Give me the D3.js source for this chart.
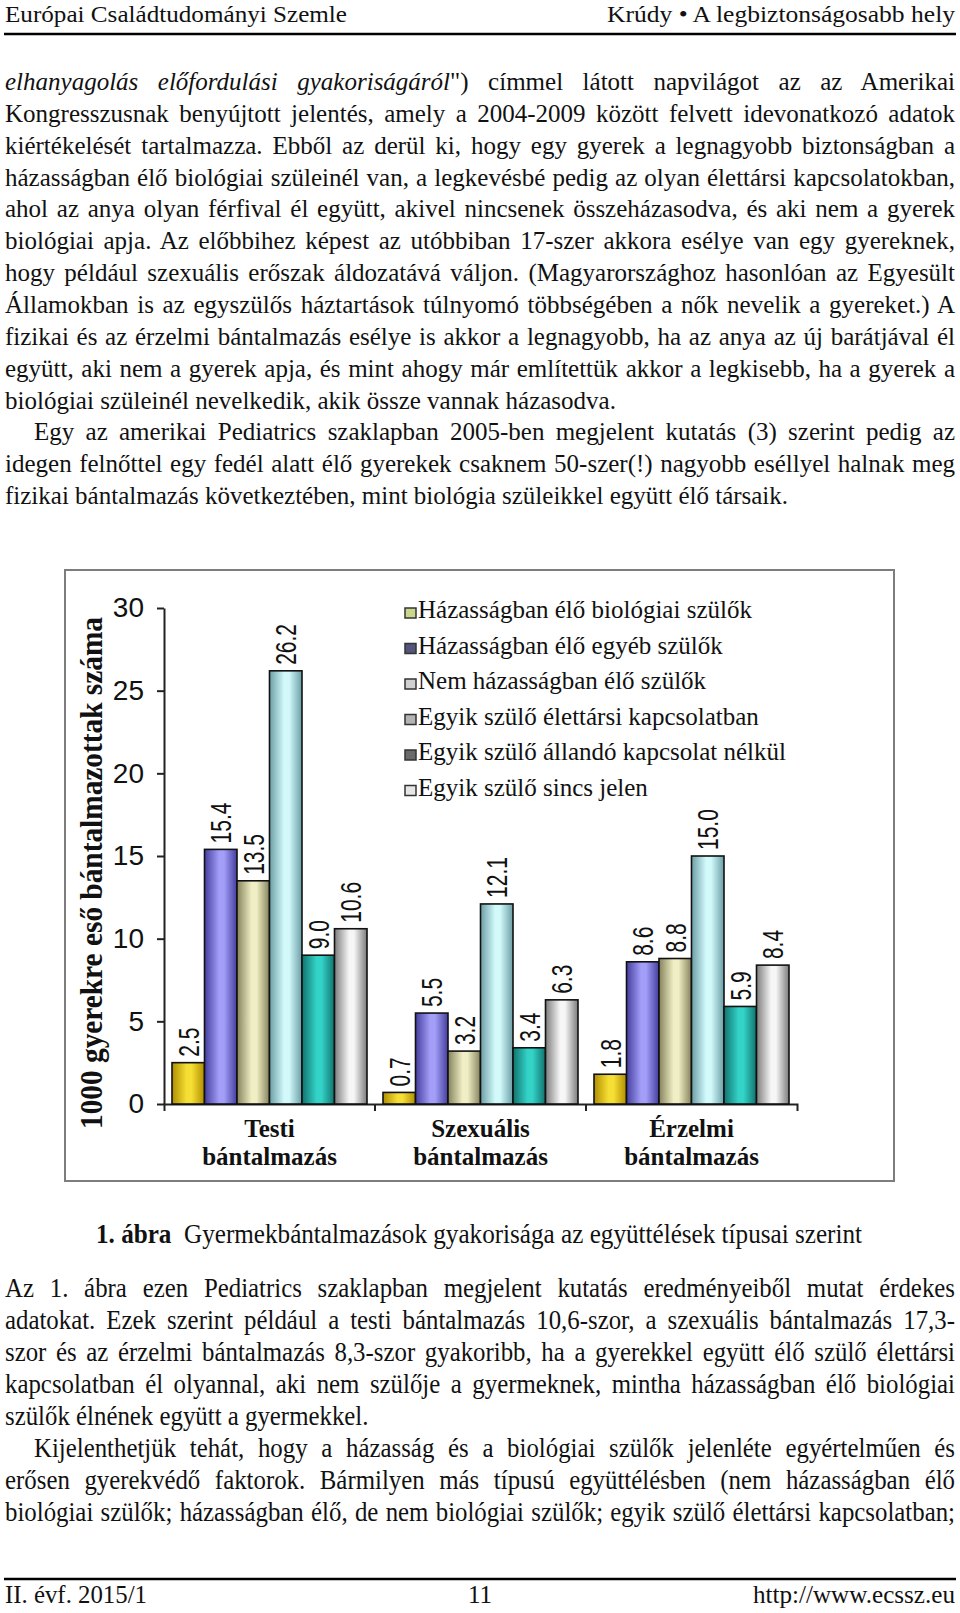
<!DOCTYPE html>
<html>
<head>
<meta charset="utf-8">
<script src="https://cdn.jsdelivr.net/npm/d3@7"></script>
<style>
  body { margin: 0; background: #fff; }
  svg text { fill: #111; }
</style>
</head>
<body>
<svg width="960" height="1613"></svg>
<script>
// ---- chart data ----
const categories = ["Testi bántalmazás", "Szexuális bántalmazás", "Érzelmi bántalmazás"];
const seriesNames = [
  "Házasságban élő biológiai szülők",
  "Házasságban élő egyéb szülők",
  "Nem házasságban élő szülők",
  "Egyik szülő élettársi kapcsolatban",
  "Egyik szülő állandó kapcsolat nélkül",
  "Egyik szülő sincs jelen"
];
const testiValues     = [2.5, 15.4, 13.5, 26.2, 9.0, 10.6];
const szexualisValues = [0.7, 5.5, 3.2, 12.1, 3.4, 6.3];
const erzelmiValues   = [1.8, 8.6, 8.8, 15.0, 5.9, 8.4];
const yTicks = [0, 5, 10, 15, 20, 25, 30];
const yTitle = "1000 gyerekre eső bántalmazottak száma";

const barEdge = ["#b08e00", "#443d9e", "#85835c", "#6b9ea6", "#11736e", "#7c7c7c"];
const barMid  = ["#f6df34", "#a39ef8", "#efeec4", "#d2fafb", "#33d3c8", "#f6f6f6"];
const swatch  = ["#c9d68c", "#55547a", "#d0d0d0", "#b4b4b4", "#6a6a6a", "#e6e6e6"];

// ---- page text ----
const headerLeft = "Európai Családtudományi Szemle";
const headerRight = "Krúdy • A legbiztonságosabb hely";
const topLines = [
  "_elhanyagolás előfordulási gyakoriságáról_\") címmel látott napvilágot az az Amerikai",
  "Kongresszusnak benyújtott jelentés, amely a 2004-2009 között felvett idevonatkozó adatok",
  "kiértékelését tartalmazza. Ebből az derül ki, hogy egy gyerek a legnagyobb biztonságban a",
  "házasságban élő biológiai szüleinél van, a legkevésbé pedig az olyan élettársi kapcsolatokban,",
  "ahol az anya olyan férfival él együtt, akivel nincsenek összeházasodva, és aki nem a gyerek",
  "biológiai apja. Az előbbihez képest az utóbbiban 17-szer akkora esélye van egy gyereknek,",
  "hogy például szexuális erőszak áldozatává váljon. (Magyarországhoz hasonlóan az Egyesült",
  "Államokban is az egyszülős háztartások túlnyomó többségében a nők nevelik a gyereket.) A",
  "fizikai és az érzelmi bántalmazás esélye is akkor a legnagyobb, ha az anya az új barátjával él",
  "együtt, aki nem a gyerek apja, és mint ahogy már említettük akkor a legkisebb, ha a gyerek a",
  "biológiai szüleinél nevelkedik, akik össze vannak házasodva.",
  "Egy az amerikai Pediatrics szaklapban 2005-ben megjelent kutatás (3) szerint pedig az",
  "idegen felnőttel egy fedél alatt élő gyerekek csaknem 50-szer(!) nagyobb eséllyel halnak meg",
  "fizikai bántalmazás következtében, mint biológia szüleikkel együtt élő társaik."
];
const topIndent = [11];
const topLast = [10, 13];
const bottomLines = [
  "Az 1. ábra ezen Pediatrics szaklapban megjelent kutatás eredményeiből mutat érdekes",
  "adatokat. Ezek szerint például a testi bántalmazás 10,6-szor, a szexuális bántalmazás 17,3-",
  "szor és az érzelmi bántalmazás 8,3-szor gyakoribb, ha a gyerekkel együtt élő szülő élettársi",
  "kapcsolatban él olyannal, aki nem szülője a gyermeknek, mintha házasságban élő biológiai",
  "szülők élnének együtt a gyermekkel.",
  "Kijelenthetjük tehát, hogy a házasság és a biológiai szülők jelenléte egyértelműen és",
  "erősen gyerekvédő faktorok. Bármilyen más típusú együttélésben (nem házasságban élő",
  "biológiai szülők; házasságban élő, de nem biológiai szülők; egyik szülő élettársi kapcsolatban;"
];
const bottomIndent = [5];
const bottomLast = [4];
const captionBold = "1. ábra";
const captionText = "Gyermekbántalmazások gyakorisága az együttélések típusai szerint";
const footer = ["II. évf. 2015/1", "11", "http://www.ecssz.eu"];

const serif = "'Liberation Serif','Times New Roman',serif";
const sans = "'Liberation Sans',Arial,sans-serif";

const svg = d3.select("svg");
svg.append("rect").attr("width", 960).attr("height", 1613).attr("fill", "#fff");

// justified line of text; sx < 1 gives the condensed face
function textLine(str, x, y, width, justify, size, sx) {
  const g = svg.append("g").attr("transform", `translate(${x},${y}) scale(${sx},1)`);
  const t = g.append("text")
             .style("font-family", serif)
             .style("font-size", size + "px");
  str.split("_").forEach((part, i) => {
    if (part === "") return;
    t.append("tspan").style("font-style", i % 2 ? "italic" : "normal").text(part);
  });
  if (justify) {
    const natural = t.node().getComputedTextLength();
    const spaces = (str.match(/ /g) || []).length;
    t.style("word-spacing", ((width / sx - natural) / spaces) + "px");
  }
}

// header
svg.append("text").attr("x", 5).attr("y", 22)
   .attr("textLength", 342).attr("lengthAdjust", "spacingAndGlyphs")
   .style("font-family", serif).style("font-size", "24px").text(headerLeft);
svg.append("text").attr("x", 955).attr("y", 22).attr("text-anchor", "end")
   .attr("textLength", 348).attr("lengthAdjust", "spacingAndGlyphs")
   .style("font-family", serif).style("font-size", "24px").text(headerRight);
svg.append("line").attr("x1", 4).attr("x2", 956).attr("y1", 34).attr("y2", 34)
   .attr("stroke", "#000").attr("stroke-width", 2.5);

topLines.forEach((s, i) => {
  const ind = topIndent.includes(i) ? 29 : 0;
  textLine(s, 5 + ind, 90 + i * 31.85, 950 - ind, !topLast.includes(i), 25, 1);
});

bottomLines.forEach((s, i) => {
  const ind = bottomIndent.includes(i) ? 29 : 0;
  textLine(s, 5 + ind, 1297 + i * 32, 950 - ind, !bottomLast.includes(i), 27, 0.92);
});

// caption
const cap = svg.append("text").attr("x", 479).attr("y", 1243).attr("text-anchor", "middle")
   .attr("textLength", 766).attr("lengthAdjust", "spacingAndGlyphs")
   .style("font-family", serif).style("font-size", "27px").style("white-space", "pre");
cap.append("tspan").style("font-weight", "bold").text(captionBold);
cap.append("tspan").text("  " + captionText);

// footer
svg.append("line").attr("x1", 4).attr("x2", 956).attr("y1", 1579).attr("y2", 1579)
   .attr("stroke", "#000").attr("stroke-width", 2.5);
svg.append("text").attr("x", 5).attr("y", 1603)
   .attr("textLength", 142).attr("lengthAdjust", "spacingAndGlyphs")
   .style("font-family", serif).style("font-size", "25px").text(footer[0]);
svg.append("text").attr("x", 480).attr("y", 1603).attr("text-anchor", "middle")
   .style("font-family", serif).style("font-size", "25px").text(footer[1]);
svg.append("text").attr("x", 955).attr("y", 1603).attr("text-anchor", "end")
   .attr("textLength", 202).attr("lengthAdjust", "spacingAndGlyphs")
   .style("font-family", serif).style("font-size", "25px").text(footer[2]);

// ---- chart ----
svg.append("rect").attr("x", 65).attr("y", 570).attr("width", 829).attr("height", 611)
   .attr("fill", "none").attr("stroke", "#7d7d7d").attr("stroke-width", 2);

const defs = svg.append("defs");
barEdge.forEach((c, i) => {
  const gr = defs.append("linearGradient").attr("id", "bar" + i)
                 .attr("x1", 0).attr("x2", 1).attr("y1", 0).attr("y2", 0);
  gr.append("stop").attr("offset", "0%").attr("stop-color", c);
  gr.append("stop").attr("offset", "45%").attr("stop-color", barMid[i]);
  gr.append("stop").attr("offset", "60%").attr("stop-color", barMid[i]);
  gr.append("stop").attr("offset", "100%").attr("stop-color", c);
});

const values = [testiValues, szexualisValues, erzelmiValues];

const x0 = d3.scaleBand().domain(categories).range([164, 797]);
const x1 = d3.scaleBand().domain(d3.range(seriesNames.length)).range([8, x0.bandwidth() - 8]);
const y = d3.scaleLinear().domain([0, 30]).range([1104, 608]);

const yAxis = svg.append("g")
   .attr("transform", "translate(164,0)")
   .call(d3.axisLeft(y).tickValues(yTicks).tickSize(7).tickSizeOuter(0).tickPadding(13));
yAxis.selectAll("path, line").attr("stroke", "#222").attr("stroke-width", 2);
yAxis.selectAll("text").style("font-family", sans).style("font-size", "28px").attr("fill", "#222");

const xAxis = svg.append("g")
   .attr("transform", "translate(0,1104)")
   .call(d3.axisBottom(x0).tickSize(0).tickSizeOuter(7).tickFormat(""));
xAxis.select("path").attr("stroke", "#222").attr("stroke-width", 2);
xAxis.selectAll(".sep")
     .data(categories.slice(1))
     .enter()
     .append("line")
     .attr("x1", d => x0(d)).attr("x2", d => x0(d))
     .attr("y1", 0).attr("y2", 7)
     .attr("stroke", "#222").attr("stroke-width", 2);

const groups = svg.selectAll(".grp")
   .data(categories)
   .enter()
   .append("g")
   .attr("transform", d => `translate(${x0(d)},0)`);

groups.selectAll("rect")
   .data((d, gi) => values[gi])
   .enter()
   .append("rect")
   .attr("x", (d, i) => x1(i))
   .attr("width", x1.bandwidth())
   .attr("y", d => y(d))
   .attr("height", d => y(0) - y(d))
   .attr("fill", (d, i) => `url(#bar${i})`)
   .attr("stroke", "#111")
   .attr("stroke-width", 1.6);

groups.selectAll(".val")
   .data((d, gi) => values[gi])
   .enter()
   .append("text")
   .attr("transform", (d, i) => `translate(${x1(i) + x1.bandwidth() / 2},${y(d) - 6}) rotate(-90) scale(1,1.4)`)
   .attr("dy", "0.36em")
   .style("font-family", sans)
   .style("font-size", "21px")
   .attr("fill", "#222")
   .text(d => d.toFixed(1));

groups.append("text")
   .attr("x", x0.bandwidth() / 2)
   .attr("text-anchor", "middle")
   .style("font-family", serif)
   .style("font-weight", "bold")
   .style("font-size", "25px")
   .selectAll("tspan")
   .data(d => d.split(" "))
   .enter()
   .append("tspan")
   .attr("x", x0.bandwidth() / 2)
   .attr("y", (d, i) => 1137 + i * 28)
   .text(d => d);

svg.append("text")
   .attr("transform", "translate(102,873) rotate(-90)")
   .attr("text-anchor", "middle")
   .attr("textLength", 512)
   .attr("lengthAdjust", "spacingAndGlyphs")
   .style("font-family", serif)
   .style("font-weight", "bold")
   .style("font-size", "31px")
   .text(yTitle);

const legend = svg.selectAll(".leg")
   .data(seriesNames)
   .enter()
   .append("g")
   .attr("transform", (d, i) => `translate(405,${618 + i * 35.5})`);

legend.append("rect")
   .attr("y", -10).attr("width", 11).attr("height", 10)
   .attr("fill", (d, i) => swatch[i])
   .attr("stroke", "#333").attr("stroke-width", 1.5);

legend.append("text")
   .attr("x", 13)
   .style("font-family", serif)
   .style("font-size", "25px")
   .text(d => d);
</script>
</body>
</html>
